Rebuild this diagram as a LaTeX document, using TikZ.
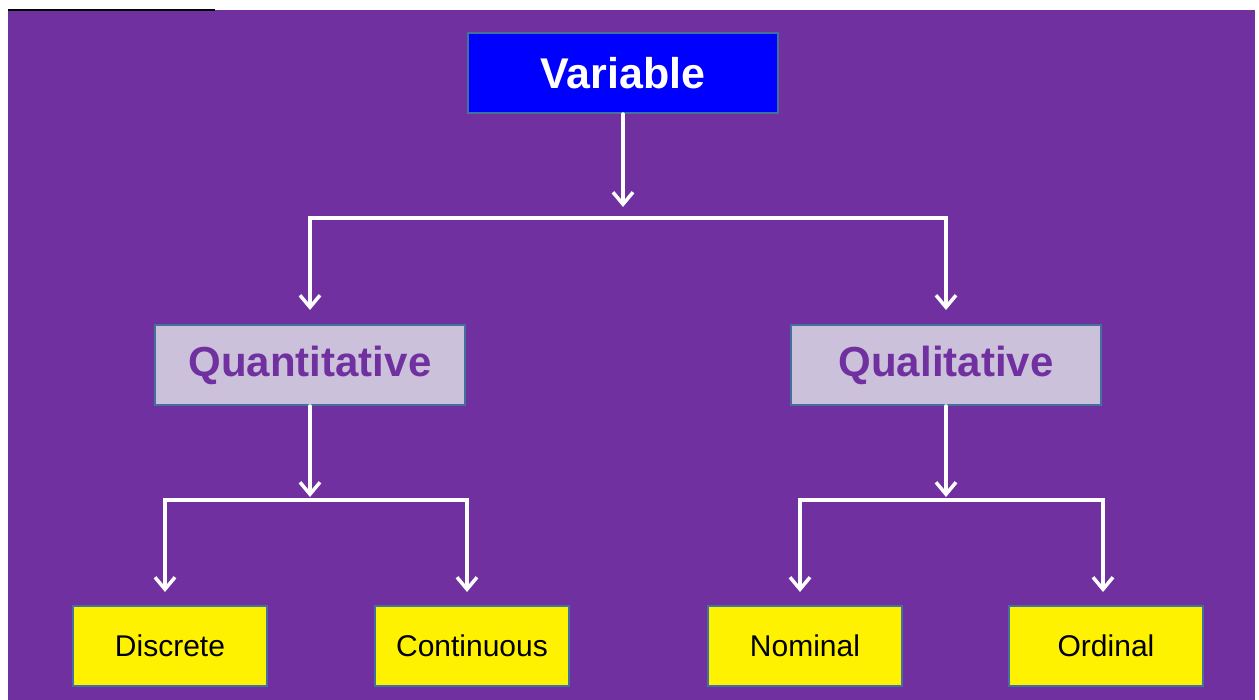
\documentclass[tikz,border=0pt]{standalone}
\usepackage{fontspec}
\setmainfont{Liberation Sans}
\usetikzlibrary{arrows.meta, positioning}
\definecolor{bgpurple}{HTML}{7030A0}
\definecolor{varblue}{HTML}{0000FF}
\definecolor{lavender}{HTML}{CCC1DA}
\definecolor{edgeblue}{HTML}{41719C}
\tikzset{
  box/.style = {draw=edgeblue, line width=2pt, align=center, inner sep=0pt,
    minimum height=80pt},
  varbox/.style = {box, fill=varblue, text=white, minimum width=310pt,
    font=\fontsize{43}{50}\selectfont\bfseries},
  typebox/.style = {box, fill=lavender, text=bgpurple, minimum width=310pt,
    font=\fontsize{42}{50}\selectfont\bfseries},
  leafbox/.style = {box, fill=yellow, text=black, minimum width=194pt,
    font=\fontsize{30}{36}\selectfont},
  conn/.style = {draw=white, line width=3.5pt, line cap=round,
    -{Straight Barb[length=12pt,width=20pt,line width=3.5pt]}}
}

\begin{document}
\begin{tikzpicture}[x=1pt, y=1pt]
\useasboundingbox (0,0) rectangle (1259,700);
\fill[white] (0,0) rectangle (1259,700);
\fill[bgpurple] (8,0) rectangle (1255,690);
\draw[black, line width=1.5pt] (8,690) -- (215,690);

% boxes
\node [varbox] (var) at (623,627) {Variable};
\node [typebox] (quan) at (310,335) {Quantitative};
\node [typebox] (qual) at (946,335) {Qualitative};
\node [leafbox] (disc) at (170,54) {Discrete};
\node [leafbox] (cont) at (472,54) {Continuous};
\node [leafbox] (nomi) at (805,54) {Nominal};
\node [leafbox] (ordi) at (1106,54) {Ordinal};

% first level
\coordinate (varfork) at (623,482);
\draw[conn] (var.south) -- ([yshift=11pt]varfork);
\draw[conn] (varfork) -| ([yshift=14pt]quan.north);
\draw[conn] (varfork) -| ([yshift=14pt]qual.north);

% second level
\coordinate (quanfork) at (310,200);
\coordinate (qualfork) at (946,200);
\draw[conn] (quan.south) -- ([yshift=3pt]quanfork);
\draw[conn] (quanfork) -| ([xshift=-5pt,yshift=13pt]disc.north);
\draw[conn] (quanfork) -| ([xshift=-5pt,yshift=13pt]cont.north);
\draw[conn] (qual.south) -- ([yshift=3pt]qualfork);
\draw[conn] (qualfork) -| ([xshift=-5pt,yshift=13pt]nomi.north);
\draw[conn] (qualfork) -| ([xshift=-3pt,yshift=13pt]ordi.north);
\end{tikzpicture}
\end{document}
